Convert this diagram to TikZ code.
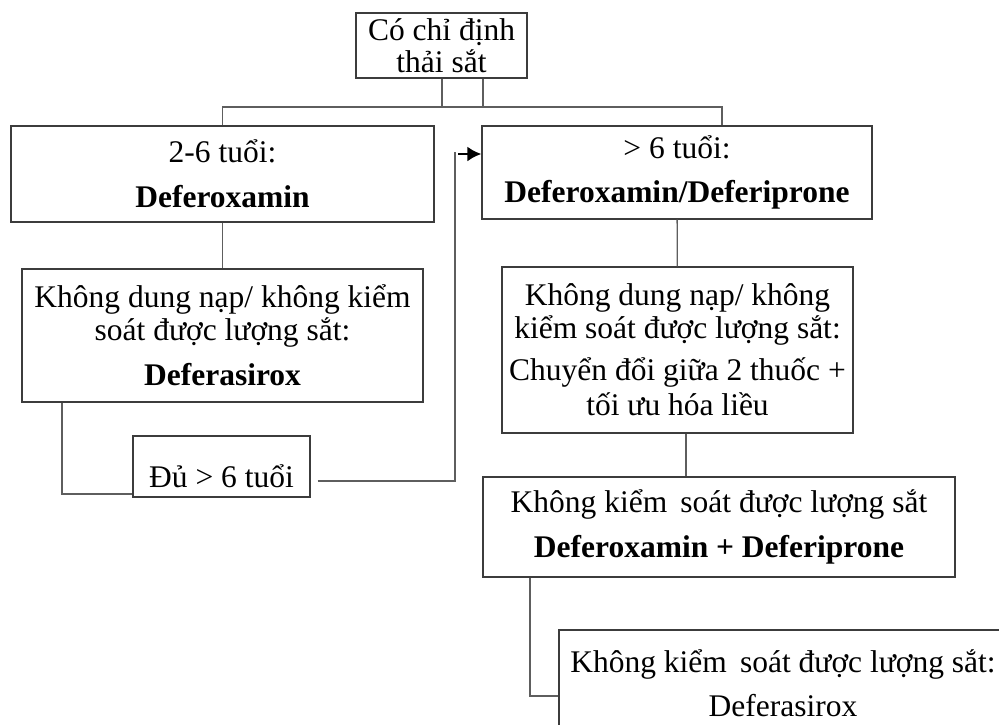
\documentclass[tikz,border=0pt]{standalone}
\usepackage{fontspec}
\setmainfont{Liberation Serif}
\usetikzlibrary{arrows.meta,calc}
\begin{document}
\begin{tikzpicture}[x=1pt,y=-1pt,
  box/.style={draw=boxline, line width=1.2pt, rectangle, inner sep=0pt, align=center,
    font=\fontsize{31.5}{33}\selectfont},
  link/.style={draw=linkgray, line width=1.3pt},
  every node/.append style={text=black}]
\definecolor{boxline}{HTML}{3C3C3C}
\definecolor{linkgray}{HTML}{5E5E5E}
\useasboundingbox (0,0) rectangle (999,725);
\clip (0,0) rectangle (999,725);

% boxes
\node[box, minimum width=171pt, minimum height=65pt] (top) at (441.5,45.5)
  {Có chỉ định\\[-1pt]thải sắt};
\node[box, minimum width=423pt, minimum height=96pt] (young) at (222.5,174)
  {2-6 tuổi:\\[12pt]\textbf{Deferoxamin}};
\node[box, minimum width=390pt, minimum height=93pt] (old) at (677,172.5)
  {> 6 tuổi:\\[11pt]\textbf{Deferoxamin/Deferiprone}};
\node[box, minimum width=401pt, minimum height=133pt] (intolL) at (222.5,335.5)
  {Không dung nạp/ không kiểm\\soát được lượng sắt:\\[12pt]\textbf{Deferasirox}};
\node[box, minimum width=177pt, minimum height=61pt] (age) at (221.5,466.5)
  {\raisebox{-21pt}[0pt][0pt]{Đủ > 6 tuổi}};
\node[box, minimum width=351pt, minimum height=166pt] (intolR) at (677.5,350)
  {Không dung nạp/ không\\kiểm soát được lượng sắt:\\[9pt]Chuyển đổi giữa 2 thuốc +\\[2pt]tối ưu hóa liều};
\node[box, minimum width=472pt, minimum height=100pt] (combo) at (719,527)
  {Không kiểm\, soát được lượng sắt\\[12pt]\textbf{Deferoxamin + Deferiprone}};
\node[box, minimum width=448pt, minimum height=107pt] (last) at (783,683.5)
  {Không kiểm\, soát được lượng sắt:\\[11pt]Deferasirox};

% branch from the top box
\coordinate (jl) at (442,107);
\coordinate (jr) at (483,107);
\coordinate (bend) at (722,107);
\draw[link] (top.south -| jl) -- (jl);
\draw[link] (top.south -| jr) -- (jr);
\draw[link] (young.north) |- (bend) -- (bend |- old.north);

% left column
\draw[link] (young) -- (intolL);
\draw[link] ([xshift=-160.5pt]intolL.south) |- ([yshift=-27.5pt]age.west);

% age switch back to the right column
\coordinate (up) at (455,152);
\draw[link] ([xshift=7pt,yshift=-14.5pt]age.east) -| (up);
\draw[black, line width=2.6pt, -{Latex[length=14pt,width=15pt]}]
  ([xshift=-23pt,yshift=18.5pt]old.west) -- ([yshift=18.5pt]old.west);

% right column
\draw[link] (old) -- (intolR);
\draw[link] ([xshift=8.5pt]intolR.south) -- ([xshift=8.5pt]intolR.south |- combo.north);
\draw[link] ([xshift=-189pt]combo.south) |- ([yshift=-12.5pt]last.west);
\end{tikzpicture}
\end{document}
